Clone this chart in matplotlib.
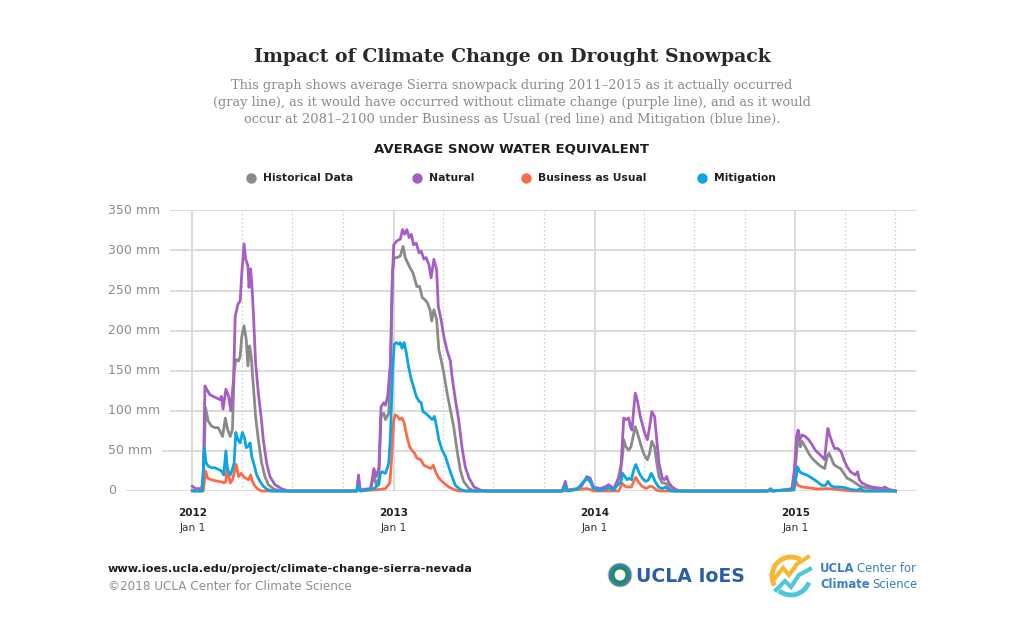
import numpy as np
import matplotlib.pyplot as plt
from matplotlib.patches import Circle, Arc
import matplotlib.transforms as mtransforms

# days after 2012-01-01 / snow water equivalent (mm)
hist_day = [0, 18, 20, 24, 29, 35, 41, 47, 50, 55, 60, 64, 69, 73, 76, 79, 84, 87, 90, 94,
            98, 101, 104, 107, 111, 115, 120, 126, 132, 138, 148, 160,
            299, 302, 305, 324, 330, 334, 339, 343, 348, 351, 357, 361, 364, 367, 372, 378, 383, 387,
            391, 396, 401, 405, 408, 413, 418, 422, 427, 432, 435, 439, 444, 448, 452, 457, 463, 469,
            475, 481, 487, 493, 503, 512,
            672, 678, 681, 699, 717, 723, 729, 741, 753, 756, 766, 773, 781, 784, 788, 793, 797, 801,
            805, 809, 814, 819, 823, 827, 831, 835, 840, 844, 848, 854, 858, 863, 869, 878,
            1045, 1051, 1055, 1093, 1096, 1099, 1102, 1105, 1108, 1114, 1120, 1126, 1132, 1138, 1144,
            1149, 1154, 1157, 1161, 1166, 1172, 1178, 1184, 1190, 1196, 1205, 1211, 1217, 1226, 1238,
            1257, 1278]
hist_mm = [1, 1, 10, 104, 87, 81, 79, 79, 75, 68, 91, 77, 68, 77, 148, 164, 162, 168, 193, 206,
           189, 156, 181, 168, 131, 93, 64, 35, 18, 8, 2.5, 0,
           0, 15, 1, 2, 20, 8, 15, 93, 97, 89, 97, 172, 276, 291, 291, 293, 305, 291,
           285, 278, 272, 262, 255, 255, 241, 239, 235, 226, 212, 226, 214, 176, 164, 147, 122, 101,
           80, 51, 26, 12, 3, 0,
           0, 8, 1, 2, 16, 12, 4, 2, 5, 6, 2, 12, 39, 64, 55, 51, 55, 68,
           80, 72, 60, 49, 43, 39, 47, 62, 55, 35, 18, 10, 10, 8, 2, 0,
           0, 2, 0, 3, 30, 55, 66, 55, 62, 55, 47, 41, 37, 33, 30,
           28, 43, 47, 41, 33, 30, 28, 22, 16, 14, 10, 7, 5, 4, 2.5,
           1, 0]

nat_day = [0, 6, 17, 20, 23, 26, 32, 38, 44, 50, 53, 56, 61, 66, 70, 75, 78, 83, 87, 90,
           94, 97, 101, 103, 106, 108, 111, 115, 120, 125, 129, 135, 141, 150, 163, 175,
           299, 302, 305, 311, 324, 330, 334, 339, 343, 348, 351, 355, 360, 363, 366, 372, 378, 382,
           386, 390, 394, 398, 402, 407, 412, 416, 421, 425, 430, 434, 439, 444, 447, 452, 457, 463,
           469, 472, 478, 484, 490, 496, 503, 512, 524, 535,
           672, 678, 681, 699, 705, 717, 723, 729, 741, 753, 756, 766, 773, 778, 781, 784, 788, 793,
           796, 799, 802, 805, 809, 814, 819, 823, 827, 831, 835, 840, 844, 848, 854, 858, 862, 866,
           872, 881, 890,
           1045, 1051, 1055, 1075, 1087, 1090, 1094, 1098, 1101, 1104, 1108, 1114, 1120, 1126, 1132,
           1138, 1144, 1149, 1152, 1155, 1158, 1163, 1167, 1173, 1179, 1184, 1190, 1196, 1205, 1209,
           1212, 1217, 1226, 1235, 1244, 1254, 1258, 1266, 1278]
nat_mm = [6, 3, 3, 20, 131, 127, 120, 118, 116, 114, 118, 102, 127, 118, 100, 139, 218, 233, 237, 272,
          308, 289, 281, 254, 277, 260, 222, 160, 122, 93, 64, 35, 18, 8, 2.5, 0,
          0, 20, 1, 2, 3, 28, 18, 28, 105, 110, 107, 118, 160, 255, 307, 312, 314, 326,
          320, 326, 316, 320, 307, 309, 297, 299, 289, 291, 282, 266, 289, 276, 230, 214, 193, 175,
          162, 143, 114, 89, 55, 30, 16, 5, 1, 0,
          0, 12, 1, 3, 3, 18, 16, 5, 3, 6, 8, 3, 14, 18, 55, 91, 89, 91,
          80, 76, 101, 122, 112, 93, 80, 70, 64, 80, 99, 93, 64, 35, 16, 14, 18, 10,
          5, 1, 0,
          0, 3, 0, 1, 1, 5, 26, 68, 76, 64, 70, 68, 64, 58, 51,
          47, 43, 39, 60, 78, 70, 60, 53, 53, 49, 39, 30, 24, 20, 24,
          14, 10, 7, 5, 4, 3, 5, 2, 0]

bau_day = [0, 20, 24, 28, 35, 41, 47, 55, 58, 61, 63, 69, 73, 80, 84, 89, 93, 97, 102, 106,
           109, 114, 120, 126,
           299, 302, 305, 342, 351, 359, 362, 366, 369, 373, 377, 381, 385, 390, 395, 399, 404, 408,
           415, 421, 427, 433, 438, 442, 448, 457, 466, 475, 484,
           672, 717, 723, 729, 775, 777, 781, 786, 790, 798, 802, 806, 810, 817, 825, 832, 837, 844, 851,
           1045, 1093, 1097, 1101, 1108, 1120, 1135, 1154, 1172, 1190, 1202, 1278]
bau_mm = [0, 0, 25, 16, 14, 13, 12, 11, 10, 12, 29, 10, 14, 33, 18, 22, 18, 16, 14, 20,
          12, 6, 2, 0,
          0, 3, 0, 2, 3, 10, 39, 89, 95, 93, 89, 91, 85, 68, 55, 51, 47, 41,
          39, 32, 30, 28, 32, 24, 16, 10, 5, 2, 0,
          0, 3, 2, 0, 0, 3, 10, 6, 5, 5, 12, 17, 12, 6, 3, 6, 5, 1, 0,
          0, 1, 12, 7, 5, 4, 2.5, 3, 2, 0.5, 0, 0]

mit_day = [0, 18, 22, 25, 29, 35, 41, 47, 53, 57, 61, 64, 69, 73, 76, 79, 83, 87, 91, 95,
           98, 102, 105, 108, 113, 117, 123, 129, 135, 144,
           299, 302, 305, 330, 339, 342, 345, 351, 355, 357, 360, 364, 367, 371, 375, 378, 381, 385,
           389, 393, 398, 402, 407, 412, 416, 419, 424, 430, 436, 440, 444, 448, 454, 460, 466, 472,
           478, 487, 496,
           672, 678, 681, 699, 717, 723, 729, 741, 753, 756, 766, 773, 778, 782, 786, 790, 794, 798,
           802, 806, 810, 814, 820, 825, 829, 834, 837, 841, 847, 854, 860, 866, 872,
           1045, 1051, 1055, 1093, 1097, 1100, 1104, 1108, 1117, 1126, 1135, 1144, 1151, 1155, 1160,
           1166, 1178, 1187, 1196, 1208, 1214, 1220, 1278]
mit_mm = [0, 0, 54, 35, 31, 29, 29, 27, 25, 20, 50, 27, 20, 27, 35, 73, 64, 60, 73, 66,
          54, 56, 60, 43, 31, 20, 12, 6, 2.5, 0,
          0, 7, 0, 3, 8, 22, 24, 22, 30, 35, 68, 151, 183, 185, 183, 185, 178, 185,
          172, 155, 139, 130, 118, 112, 110, 99, 97, 93, 89, 93, 80, 64, 51, 43, 30, 18,
          7, 2, 0,
          0, 7, 0, 2, 16, 12, 3, 1, 3, 4, 1, 8, 10, 22, 18, 14, 16, 14,
          26, 33, 26, 20, 14, 12, 14, 22, 18, 12, 5, 3, 5, 1, 0,
          0, 1, 0, 2, 16, 30, 24, 22, 20, 16, 12, 7, 7, 12, 7,
          5, 5, 4, 2, 1, 3, 0, 0]

series_names = ['Historical Data', 'Natural', 'Business as Usual', 'Mitigation']
series_colors = ['#8a8a8a', '#a65ec6', '#fb6b48', '#0ba5e4']
y_ticks = [0, 50, 100, 150, 200, 250, 300, 350]
years = ['2012', '2013', '2014', '2015']

start = np.datetime64('2012-01-01')
def day_of(s):
    return int((np.datetime64(s) - start).astype(int))

year_days = [day_of(y + '-01-01') for y in years]
quarter_days = [day_of(f'{y}-{m}-01') for y in years for m in ('04', '07', '10')]
quarter_days = [d for d in quarter_days if d < day_of('2015-08-01')]

SANS = 'DejaVu Sans'
SERIF = 'DejaVu Serif'

fig = plt.figure(figsize=(10.24, 6.35), dpi=100)
deco = fig.add_axes([0, 0, 1, 1])
deco.set_xlim(0, 1024)
deco.set_ylim(635, 0)
deco.axis('off')

renderer = fig.canvas.get_renderer()
def fit(t, width_px):
    w = t.get_window_extent(renderer).width
    t.set_fontsize(t.get_fontsize() * width_px / w)
    return t.get_fontsize()

def right_end(t):
    # right edge of a text in deco (pixel) coords
    bb = t.get_window_extent(renderer)
    return deco.transData.inverted().transform((bb.x1, bb.y0))[0]

# chart area: 2012-01-01 at px 192.3, one year = 201 px
px_per_day = 201.0 / 365.25
left_px, right_px = 108, 916
ax = fig.add_axes([left_px / 1024, (635 - 491) / 635, (right_px - left_px) / 1024, (491 - 210.3) / 635])
ax.set_facecolor('none')
ax.set_xlim((left_px - 192.3) / px_per_day, (right_px - 192.3) / px_per_day)
ax.set_ylim(0, 350)
for s in ax.spines.values():
    s.set_visible(False)
ax.set_xticks([])
ax.set_yticks([])

for y in y_ticks:
    ax.axhline(y, color='#d9d9d9', lw=1.3, zorder=0)
for d in year_days:
    ax.axvline(d, color='#d9d9d9', lw=1.3, zorder=0.5)
for d in quarter_days:
    ax.axvline(d, color='#cdcdcd', lw=0.9, ls=(0, (1.2, 2)), zorder=0.5)

ytr = mtransforms.blended_transform_factory(ax.transAxes, ax.transData)
ylabs = []
for y in y_ticks:
    lab = '0' if y == 0 else f'{y} mm'
    t = ax.text(0, y, lab, transform=ytr, ha='left', va='center', color='#8c8c8c',
                family=SANS, fontsize=10, zorder=3,
                bbox=dict(boxstyle='square,pad=0.8', fc='white', ec='none'))
    ylabs.append(t)
fs = fit(ylabs[-1], 52)
for t in ylabs:
    t.set_fontsize(fs)

xtr = ax.get_xaxis_transform()
for y, d in zip(years, year_days):
    t1 = ax.text(d, -22 / 280.7, y, transform=xtr, ha='center', va='center',
                 weight='bold', color='#222222', family=SANS, fontsize=9)
    t2 = ax.text(d, -37 / 280.7, 'Jan 1', transform=xtr, ha='center', va='center',
                 color='#333333', family=SANS, fontsize=9)
    fit(t1, 29)
    fit(t2, 26)

data = [(hist_day, hist_mm), (nat_day, nat_mm), (bau_day, bau_mm), (mit_day, mit_mm)]
for (dd, mm), c in zip(data, series_colors):
    ax.plot(dd, mm, color=c, lw=2.0, clip_on=False, solid_joinstyle='round', zorder=2)

# titles
t = deco.text(512, 57, 'Impact of Climate Change on Drought Snowpack', ha='center', va='center',
              family=SERIF, weight='bold', color='#2a2a2a', fontsize=18)
fit(t, 517)
sub = ['This graph shows average Sierra snowpack during 2011\u20132015 as it actually occurred',
       '(gray line), as it would have occurred without climate change (purple line), and as it would',
       'occur at 2081\u20132100 under Business as Usual (red line) and Mitigation (blue line).']
subt = []
for i, line in enumerate(sub):
    subt.append(deco.text(512, 86 + 16.5 * i, line, ha='center', va='center', family=SERIF,
                          color='#8a8a8a', fontsize=10))
fs = fit(subt[1], 606)
for tt in subt:
    tt.set_fontsize(fs)

t = deco.text(512, 149, 'AVERAGE SNOW WATER EQUIVALENT', ha='center', va='center', family=SANS,
              weight='bold', color='#1e1e1e', fontsize=10)
fit(t, 275)

# legend
leg_dot_x = [251, 417, 526, 702]
leg_txt = []
for name, c, x in zip(series_names, series_colors, leg_dot_x):
    deco.plot(x, 178, 'o', ms=7.5, color=c, mec='none')
    leg_txt.append(deco.text(x + 12, 178, name, ha='left', va='center', family=SANS,
                             weight='bold', color='#222222', fontsize=9))
fs = fit(leg_txt[2], 108)
for tt in leg_txt:
    tt.set_fontsize(fs)

# footer
t = deco.text(108, 569, 'www.ioes.ucla.edu/project/climate-change-sierra-nevada', ha='left',
              va='center', family=SANS, weight='bold', color='#1e1e1e', fontsize=9)
fit(t, 359)
t = deco.text(108, 586, '\u00a92018 UCLA Center for Climate Science', ha='left', va='center',
              family=SANS, color='#8f8f8f', fontsize=9)
fit(t, 244)

# UCLA IoES logo
for r, c in [(12.5, '#f5d27a'), (11.5, '#2f7fc3'), (8.5, '#1f8f4c'), (5.5, 'white')]:
    deco.add_patch(Circle((620, 575), r, fc=c, ec='none'))
t = deco.text(636, 576, 'UCLA IoES', ha='left', va='center', family=SANS, weight='bold',
              color='#2b5ea8', fontsize=16)
fit(t, 109)

# Center for Climate Science logo (y axis of deco points down, so angles are mirrored)
deco.add_patch(Arc((791, 576), 38, 38, theta1=150, theta2=300, color='#f7b733', lw=3.5))
deco.add_patch(Arc((791, 576), 38, 38, theta1=20, theta2=130, color='#4ec6dc', lw=3.5))
deco.plot([775, 783, 789, 797, 808], [578, 568, 575, 564, 557], color='#f7b733', lw=3,
          solid_joinstyle='miter')
deco.plot([776, 785, 791, 799, 810], [590, 581, 587, 575, 569], color='#4ec6dc', lw=3,
          solid_joinstyle='miter')
logo_fs = 8.4
a = deco.text(820, 569, 'UCLA', ha='left', va='center', family=SANS, weight='bold',
              color='#3b80c6', fontsize=logo_fs)
deco.text(right_end(a) + 2.5, 569, 'Center for', ha='left', va='center', family=SANS,
          color='#3b80c6', fontsize=logo_fs)
b = deco.text(820, 584, 'Climate', ha='left', va='center', family=SANS, weight='bold',
              color='#3b80c6', fontsize=logo_fs)
deco.text(right_end(b) + 2.5, 584, 'Science', ha='left', va='center', family=SANS,
          color='#3b80c6', fontsize=logo_fs)

fig.savefig('out.png', dpi=100, facecolor='white')
